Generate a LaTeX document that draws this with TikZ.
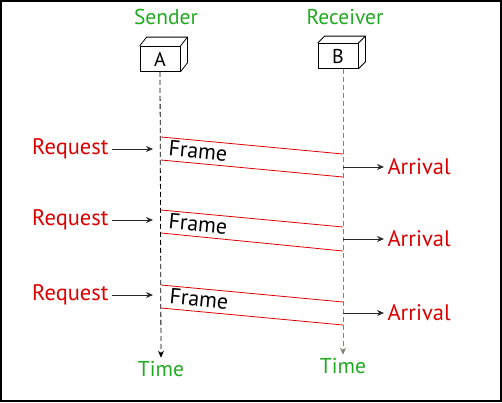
\documentclass[tikz,border=0pt]{standalone}
\usepackage{fontspec}
\setmainfont{PT Sans}
\usepackage{tikz}
\usetikzlibrary{arrows.meta,positioning,calc}
\definecolor{sendgreen}{RGB}{34,170,34}
\definecolor{msgred}{RGB}{220,0,0}
\definecolor{lifegray}{RGB}{120,132,120}

\begin{document}
\begin{tikzpicture}[
  x=1pt, y=-1pt,
  station/.style={
    rectangle, draw=black, fill=white, line width=0.8pt,
    minimum width=40pt, minimum height=25pt,
    inner sep=0pt, font=\fontsize{20}{22}\selectfont
  },
  role/.style={text=sendgreen, font=\fontsize{21.5}{23}\selectfont},
  event/.style={text=msgred, font=\fontsize{22.5}{24}\selectfont},
  framelbl/.style={font=\fontsize{22}{24}\selectfont, rotate=-5.4},
  life/.style={line width=0.8pt, dash pattern=on 5pt off 3pt, -{Stealth[length=7pt,width=6pt]}},
  frameline/.style={draw=msgred, line width=0.8pt},
  arr/.style={-{Stealth[length=7pt,width=6pt]}, line width=0.8pt, draw=black!85}
]
  \useasboundingbox (0,0) rectangle (502,402);
  \draw[line width=2pt] (1,1) rectangle (501,401);

  % stations
  \node[role] (sender)   at (166,17) {Sender};
  \node[role] (receiver) at (345,17) {Receiver};
  \node[station] (A) at (160,59) {A};
  \node[station] (B) at (338,56) {B};
  \draw[line width=0.8pt] (A.north west) -- ++(7,-9) -- ([shift={(7,-9)}]A.north east)
    -- ([shift={(7,-9)}]A.south east) -- (A.south east);
  \draw[line width=0.8pt] ([shift={(7,-9)}]A.north east) -- (A.north east);
  \draw[line width=0.8pt] (B.north west) -- ++(7,-7) -- ([shift={(7,-7)}]B.north east)
    -- ([shift={(7,-7)}]B.south east) -- (B.south east);
  \draw[line width=0.8pt] ([shift={(7,-7)}]B.north east) -- (B.north east);

  % time axes
  \node[role] (timeA) at (161,369) {Time};
  \node[role] (timeB) at (343,366) {Time};
  \draw[life] (A.south) -- (timeA.north);
  \draw[life, draw=lifegray] (B.south -| 343,0) -- (timeB.north);

  % points on the time axes
  \coordinate (a1t) at (161,137); \coordinate (b1t) at (343,154);
  \coordinate (a1b) at (161,160); \coordinate (b1b) at (343,177);
  \coordinate (a2t) at (161,210); \coordinate (b2t) at (343,227);
  \coordinate (a2b) at (161,233); \coordinate (b2b) at (343,251);
  \coordinate (a3t) at (161,285); \coordinate (b3t) at (343,302);
  \coordinate (a3b) at (161,308); \coordinate (b3b) at (343,325);

  % frames
  \draw[frameline] (a1t) -- (b1t);
  \draw[frameline] (a1b) -- (b1b);
  \draw[frameline] (a2t) -- (b2t);
  \draw[frameline] (a2b) -- (b2b);
  \draw[frameline] (a3t) -- (b3t);
  \draw[frameline] (a3b) -- (b3b);
  \node[framelbl] (frame1) at (198,151) {Frame};
  \node[framelbl] (frame2) at (198,224) {Frame};
  \node[framelbl] (frame3) at (199,299) {Frame};

  % requests
  \node[event, anchor=east] (req1) at (112,149) {Request};
  \node[event, anchor=east] (req2) at (112,220) {Request};
  \node[event, anchor=east] (req3) at (112,295) {Request};
  \draw[arr] (req1.east) -- (req1.east -| 153,0);
  \draw[arr] (req2.east) -- (req2.east -| 153,0);
  \draw[arr] (req3.east) -- (req3.east -| 153,0);

  % arrivals
  \node[event, anchor=west] (arr1) at (384,167) {Arrival};
  \node[event, anchor=west] (arr2) at (384,239) {Arrival};
  \node[event, anchor=west] (arr3) at (384,313) {Arrival};
  \draw[arr] (arr1.west -| 343,0) -- (arr1.west);
  \draw[arr] (arr2.west -| 343,0) -- (arr2.west);
  \draw[arr] (arr3.west -| 343,0) -- (arr3.west);
\end{tikzpicture}
\end{document}
